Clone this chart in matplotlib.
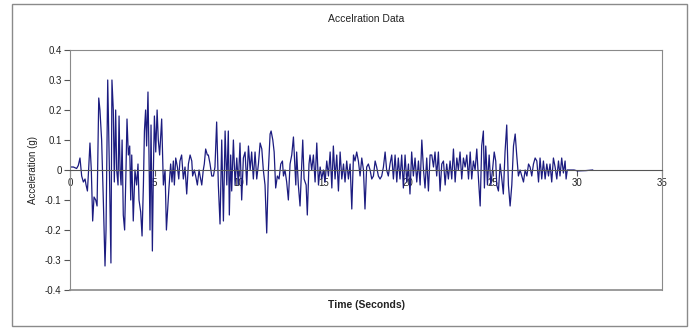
import matplotlib
matplotlib.use("Agg")
import matplotlib.pyplot as plt
from matplotlib.patches import Rectangle
from matplotlib.ticker import FuncFormatter

plt.rcParams['font.family'] = ['Liberation Sans', 'DejaVu Sans']

# time (s) and acceleration (g)
time_s = [
    0.0, 0.2, 0.39, 0.49, 0.59, 0.69, 0.79, 0.89, 0.95, 1.03, 1.10, 1.18, 1.26, 1.34,
    1.42, 1.52, 1.60, 1.70, 1.77, 1.87, 1.97, 2.07, 2.13, 2.23, 2.33, 2.42, 2.48, 2.56,
    2.62, 2.70, 2.76, 2.84, 2.90, 2.96, 3.02, 3.08, 3.15, 3.23, 3.31, 3.37, 3.45, 3.53,
    3.59, 3.65, 3.74, 3.84, 3.94, 4.02, 4.08, 4.18, 4.26, 4.34, 4.40, 4.47, 4.53, 4.61,
    4.67, 4.73, 4.79, 4.87, 4.93, 4.99, 5.07, 5.15, 5.22, 5.30, 5.42, 5.52, 5.62, 5.70,
    5.85, 5.95, 6.03, 6.11, 6.17, 6.25, 6.35, 6.43, 6.50, 6.60, 6.70, 6.80, 6.90, 7.00,
    7.10, 7.20, 7.25, 7.35, 7.43, 7.53, 7.63, 7.69, 7.79, 7.88, 7.94, 8.02, 8.12, 8.18,
    8.28, 8.38, 8.48, 8.57, 8.67, 8.77, 8.87, 8.97, 9.07, 9.17, 9.27, 9.36, 9.42, 9.50,
    9.56, 9.66, 9.76, 9.86, 9.95, 10.05, 10.15, 10.25, 10.35, 10.45, 10.55, 10.65, 10.74,
    10.84, 10.94, 11.04, 11.14, 11.24, 11.34, 11.43, 11.53, 11.63, 11.73, 11.83, 11.89,
    11.99, 12.07, 12.16, 12.26, 12.36, 12.46, 12.56, 12.62, 12.71, 12.81, 12.91, 13.01,
    13.11, 13.21, 13.27, 13.35, 13.40, 13.50, 13.60, 13.70, 13.76, 13.84, 13.96, 14.03,
    14.13, 14.19, 14.29, 14.39, 14.49, 14.59, 14.69, 14.79, 14.88, 14.98, 15.08, 15.18,
    15.28, 15.38, 15.48, 15.57, 15.67, 15.77, 15.87, 15.97, 16.07, 16.17, 16.26, 16.36,
    16.46, 16.56, 16.66, 16.76, 16.85, 16.95, 17.05, 17.15, 17.25, 17.35, 17.44, 17.54,
    17.64, 17.74, 17.84, 17.94, 18.04, 18.13, 18.23, 18.33, 18.43, 18.53, 18.63, 18.72,
    18.82, 18.92, 19.02, 19.12, 19.22, 19.32, 19.41, 19.51, 19.61, 19.71, 19.81, 19.91,
    20.01, 20.10, 20.20, 20.30, 20.40, 20.50, 20.60, 20.70, 20.80, 20.90, 20.99, 21.09,
    21.19, 21.29, 21.39, 21.49, 21.58, 21.68, 21.78, 21.88, 21.98, 22.08, 22.18, 22.27,
    22.37, 22.47, 22.57, 22.67, 22.77, 22.87, 22.96, 23.06, 23.16, 23.26, 23.36, 23.46,
    23.56, 23.66, 23.75, 23.85, 23.95, 24.05, 24.15, 24.25, 24.34, 24.44, 24.50, 24.58,
    24.68, 24.78, 24.88, 24.98, 25.08, 25.17, 25.23, 25.33, 25.43, 25.53, 25.62, 25.72,
    25.82, 25.92, 26.02, 26.12, 26.22, 26.32, 26.41, 26.51, 26.61, 26.71, 26.81, 26.91,
    27.01, 27.11, 27.20, 27.30, 27.40, 27.50, 27.60, 27.70, 27.79, 27.89, 27.99, 28.09,
    28.19, 28.29, 28.38, 28.48, 28.58, 28.68, 28.78, 28.88, 28.97, 29.07, 29.17, 29.27,
    29.33, 29.40, 29.80, 30.00, 30.50, 30.90,
]
accel_g = [
    0.01, 0.01, 0.005, 0.015, 0.04, -0.02, -0.04, -0.03, -0.05, -0.07, 0.0, 0.09, 0.0, -0.17,
    -0.09, -0.10, -0.12, 0.24, 0.20, 0.10, -0.10, -0.32, -0.20, 0.30, 0.0, -0.31, 0.30, 0.20,
    -0.04, 0.20, 0.0, -0.05, 0.18, 0.0, -0.05, 0.10, -0.15, -0.20, 0.0, 0.17, 0.05, 0.08,
    -0.10, 0.05, -0.17, 0.0, -0.05, 0.02, -0.10, -0.14, -0.22, -0.05, 0.13, 0.20, 0.08, 0.26,
    0.05, -0.20, 0.15, -0.27, 0.0, 0.18, 0.06, 0.20, 0.10, 0.05, 0.17, -0.05, 0.0, -0.20,
    -0.06, 0.02, -0.04, 0.03, -0.05, 0.04, 0.01, -0.03, 0.03, 0.05, -0.03, 0.01, -0.08, 0.02,
    0.05, 0.03, -0.02, 0.0, -0.02, -0.05, 0.0, -0.02, -0.05, 0.0, 0.02, 0.07, 0.05, 0.05,
    0.02, -0.02, -0.02, 0.01, 0.16, -0.05, -0.18, 0.10, -0.17, 0.13, -0.05, 0.13, -0.15, 0.05,
    -0.07, 0.10, -0.05, 0.04, -0.05, 0.09, -0.10, 0.04, 0.06, -0.05, 0.08, 0.0, 0.06,
    -0.03, 0.06, -0.03, 0.02, 0.09, 0.07, 0.0, -0.05, -0.21, 0.0, 0.12, 0.13,
    0.10, 0.06, -0.06, -0.02, -0.03, 0.02, 0.03, -0.02, 0.0, -0.04, -0.10, 0.02,
    0.05, 0.11, 0.04, -0.05, 0.06, -0.05, -0.12, 0.02, 0.10, -0.03, -0.05, -0.15,
    0.02, 0.05, 0.0, 0.05, -0.04, 0.09, -0.05, 0.01, -0.03, 0.0, -0.04, 0.03,
    -0.02, 0.06, -0.06, 0.08, -0.03, 0.05, -0.07, 0.06, -0.03, 0.02, -0.04, 0.03,
    -0.03, 0.02, -0.13, 0.05, 0.03, 0.06, 0.03, -0.02, 0.04, 0.0, -0.13, 0.01,
    0.02, 0.0, -0.03, -0.02, 0.03, 0.01, -0.02, -0.03, -0.02, 0.01, 0.06, 0.0,
    -0.02, 0.02, 0.05, -0.03, 0.05, -0.04, 0.04, -0.03, 0.05, -0.06, 0.05, -0.04,
    0.02, -0.08, 0.06, -0.02, 0.04, -0.04, 0.03, -0.05, 0.10, 0.0, -0.06, 0.04,
    -0.07, 0.05, 0.05, 0.01, 0.06, -0.02, 0.06, -0.07, 0.02, 0.03, -0.05, 0.02,
    -0.03, 0.03, -0.03, 0.07, -0.04, 0.04, 0.0, 0.06, -0.03, 0.04, 0.01, 0.05,
    -0.03, 0.06, -0.03, 0.03, 0.0, 0.07, -0.03, -0.12, 0.08, 0.13, -0.06, 0.08,
    -0.05, 0.05, -0.05, 0.0, 0.06, 0.03, -0.05, -0.07, 0.02, -0.03, -0.08, 0.06,
    0.15, -0.05, -0.12, -0.05, 0.08, 0.12, 0.05, -0.02, 0.0, -0.02, -0.04, 0.0,
    -0.02, 0.02, 0.01, -0.02, 0.02, 0.04, 0.03, -0.04, 0.04, -0.03, 0.03, -0.03,
    0.02, -0.02, 0.02, -0.04, 0.04, 0.01, -0.03, 0.03, -0.02, 0.04, -0.01, 0.03,
    -0.03, 0.0, 0.0, -0.003, -0.002, 0.0,
]

fig = plt.figure(figsize=(6.97, 3.31), dpi=100)
fig.patch.set_facecolor('white')

# outer chart border
fig.patches.append(Rectangle((12 / 697, 1 - 326 / 331), 675 / 697, 322 / 331,
                             transform=fig.transFigure, fill=False,
                             edgecolor='#8a8a8a', linewidth=1.0))

ax = fig.add_axes([70 / 697, 1 - 290 / 331, 592 / 697, 240 / 331])
ax.plot(time_s, accel_g, color='#1c1c80', linewidth=0.9)

ax.set_xlim(0, 35)
ax.set_ylim(-0.4, 0.4)
ax.set_xticks(range(0, 36, 5))
ax.set_yticks([-0.4, -0.3, -0.2, -0.1, 0, 0.1, 0.2, 0.3, 0.4])
ax.yaxis.set_major_formatter(FuncFormatter(lambda v, p: f"{round(v, 1):g}".replace('-0', '-0') if abs(v) > 1e-9 else '0'))

gray = '#8a8a8a'
ax.spines['bottom'].set_position(('data', 0))
ax.spines['bottom'].set_color('#555555')
ax.spines['bottom'].set_linewidth(0.8)
for s in ['top', 'right']:
    ax.spines[s].set_color(gray)
ax.spines['left'].set_color(gray)
ax.axhline(-0.4, color=gray, linewidth=1.2, clip_on=False)

ax.tick_params(axis='both', direction='out', length=4, width=0.8, color='#555555',
               labelsize=7, pad=2, labelcolor='#222222')

ax.set_title('Accelration Data', fontsize=7.5, color='#222222', pad=0, y=1 + 28 / 240)
fig.text(366 / 697, 1 - 305 / 331, 'Time (Seconds)', ha='center', va='center',
         fontsize=7.5, fontweight='bold', color='#222222')
fig.text(33 / 697, 1 - 170 / 331, 'Acceleration (g)', ha='center', va='center',
         rotation=90, fontsize=7, color='#222222')

fig.savefig('out.png', dpi=100)
